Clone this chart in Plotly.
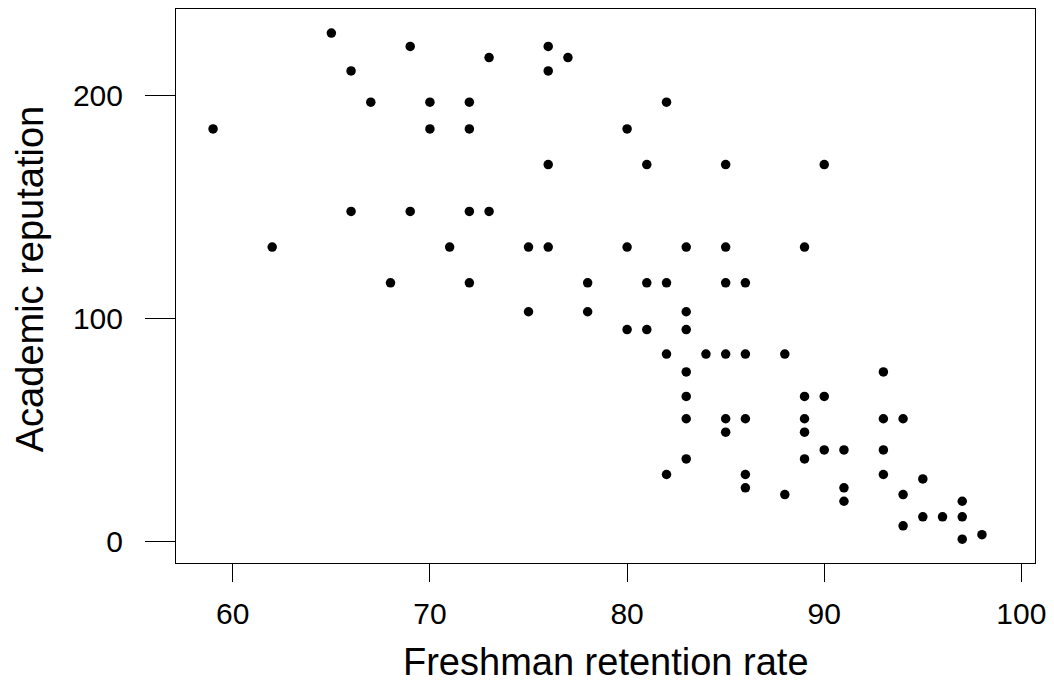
import plotly.graph_objects as go

# Freshman retention rate (%) vs. academic reputation rank
retention = [65, 69, 76, 73, 77, 66, 76, 67, 70, 72, 82, 59, 70, 72, 80,
             76, 81, 85, 90, 66, 69, 72, 73, 62, 71, 75, 76, 80, 83, 85,
             89, 68, 72, 78, 81, 82, 85, 86, 75, 78, 83, 80, 81, 83, 82,
             84, 85, 86, 88, 83, 93, 83, 89, 90, 83, 85, 86, 89, 93, 94,
             85, 89, 90, 91, 93, 83, 89, 82, 86, 93, 95, 86, 91, 88, 94,
             91, 97, 95, 96, 97, 94, 97, 98]
reputation = [228, 222, 222, 217, 217, 211, 211, 197, 197, 197, 197, 185, 185, 185, 185,
              169, 169, 169, 169, 148, 148, 148, 148, 132, 132, 132, 132, 132, 132, 132,
              132, 116, 116, 116, 116, 116, 116, 116, 103, 103, 103, 95, 95, 95, 84,
              84, 84, 84, 84, 76, 76, 65, 65, 65, 55, 55, 55, 55, 55, 55,
              49, 49, 41, 41, 41, 37, 37, 30, 30, 30, 28, 24, 24, 21, 21,
              18, 18, 11, 11, 11, 7, 1, 3]

x_ticks = [60, 70, 80, 90, 100]
y_ticks = [0, 100, 200]

FONT = "Liberation Sans, Arial, Helvetica, sans-serif"

fig = go.Figure(
    go.Scatter(
        x=retention,
        y=reputation,
        mode="markers",
        marker=dict(color="black", size=9.5, line=dict(width=0)),
        hoverinfo="x+y",
    )
)

axis_common = dict(
    showgrid=False,
    zeroline=False,
    showline=True,
    mirror=True,
    linecolor="black",
    linewidth=1,
    ticks="outside",
    tickcolor="black",
    tickwidth=1,
    tickfont=dict(family=FONT, size=30, color="black"),
)

fig.update_xaxes(
    range=[57.12, 100.69],
    tickvals=x_ticks,
    ticktext=[str(v) for v in x_ticks],
    ticklen=18,
    ticklabelstandoff=6,
    **axis_common,
)
fig.update_yaxes(
    range=[-9.7, 238.8],
    tickvals=y_ticks,
    ticktext=[str(v) for v in y_ticks],
    ticklen=30,
    ticklabelstandoff=16,
    **axis_common,
)

fig.add_annotation(
    text="Freshman retention rate",
    xref="paper", yref="paper",
    x=0.5, y=(563.3 - 662) / 555,
    xanchor="center", yanchor="middle",
    showarrow=False,
    font=dict(family=FONT, size=38, color="black"),
)
fig.add_annotation(
    text="Academic reputation",
    xref="paper", yref="paper",
    x=(29.5 - 176) / 862, y=(563.3 - 279) / 555,
    xanchor="center", yanchor="middle",
    textangle=-90,
    showarrow=False,
    font=dict(family=FONT, size=38, color="black"),
)

fig.update_layout(
    width=1054,
    height=685,
    margin=dict(l=176, r=16, t=8, b=122),
    paper_bgcolor="white",
    plot_bgcolor="white",
    showlegend=False,
)

fig.write_html("out.html")
